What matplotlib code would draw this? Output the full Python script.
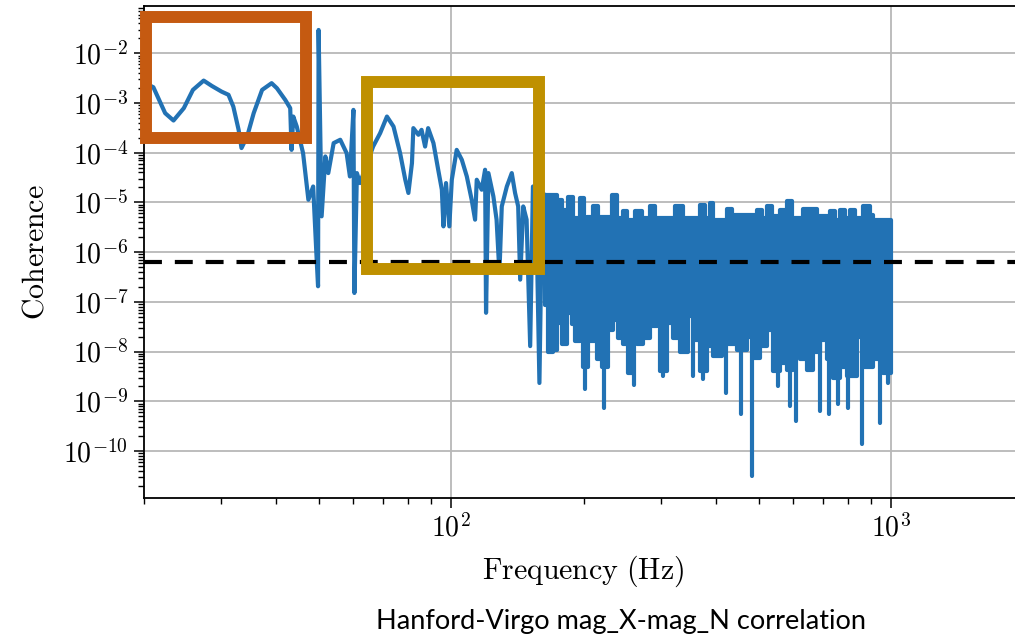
import numpy as np
import matplotlib
matplotlib.use("Agg")
import matplotlib.pyplot as plt
from matplotlib.patches import Rectangle
from matplotlib.ticker import LogLocator, FuncFormatter, NullFormatter

# ---------------- data ----------------
# structured low-frequency part of the coherence spectrum
lf_freq = [20.0, 21.06, 22.4, 23.4, 24.7, 25.9, 27.4, 28.6, 30.1, 31.2, 32.0, 32.9,
           33.4, 34.4, 35.6, 37.2, 39.1, 40.2, 42.0, 43.1, 43.4, 43.8, 44.6, 46.1,
           47.4, 48.6, 49.5, 49.86, 50.0, 50.8, 51.8, 52.6, 54.1, 56.0, 57.9, 58.9,
           60.0, 60.3, 61.1, 62.1, 66.5, 69.0, 71.5, 74.0, 76.6, 78.7, 80.0, 81.5,
           82.1, 84.3, 85.7, 87.3, 88.7, 91.2, 93.5, 95.3, 96.1, 97.4, 99.1, 100.4,
           103.0, 105.8, 108.6, 111.4, 113.4, 114.4, 117.4, 119.5, 120.1, 121.6,
           124.8, 126.9, 128.8, 130.4, 133.9, 137.4, 139.8, 142.1, 143.6, 145.9,
           148.5, 151.3, 153.5, 156.7, 158.8, 160.6, 163.6]
lf_coh = [2.6e-3, 2.07e-3, 6.24e-4, 4.44e-4, 7.87e-4, 1.83e-3, 2.82e-3, 2.2e-3,
          1.69e-3, 1.46e-3, 8.47e-4, 2.88e-4, 1.24e-4, 2.11e-4, 6.24e-4, 1.83e-3,
          2.5e-3, 1.98e-3, 1.15e-3, 7.87e-4, 1.14e-4, 5.33e-4, 3.36e-4, 9.8e-5,
          1.13e-5, 2.09e-5, 7.1e-7, 2.06e-7, 2.94e-2, 5.25e-6, 8.4e-5, 3.89e-5,
          1.56e-4, 1.82e-4, 9.8e-5, 3.33e-5, 7.26e-4, 1.51e-7, 3.89e-5, 2.45e-5,
          1.33e-4, 2.47e-4, 5.33e-4, 3.36e-4, 9.8e-5, 2.86e-5, 1.55e-5, 6.18e-5,
          3.12e-4, 2.29e-4, 2.88e-4, 1.33e-4, 3.12e-4, 1.56e-4, 4.54e-5, 1.8e-5,
          3.3e-6, 2.45e-5, 3.3e-6, 2.86e-5, 1.14e-4, 7.2e-5, 3.33e-5, 1.13e-5,
          4.5e-6, 2.86e-5, 1.8e-5, 4.54e-5, 6.03e-8, 3.89e-5, 1.32e-5, 4.5e-6,
          3.82e-7, 8.3e-6, 2.09e-5, 3.89e-5, 1.55e-5, 8.3e-6, 2.8e-7, 8.3e-6,
          4.5e-6, 1.29e-8, 2.09e-5, 1.31e-6, 2.34e-9, 1.78e-6, 1.43e-5]

# noise-dominated high-frequency part: top edge of the dense trace
# (band edges between consecutive frequencies, one level per band)
hf_up_edges = [163.6, 174.1, 178.8, 184.5, 189.4, 196.5, 200.6, 203.8, 210.2, 215.8,
               232.2, 238.4, 246.0, 251.2, 261.9, 271.7, 283.3, 290.8, 322.9, 336.7,
               368.1, 377.9, 387.9, 394.1, 424.0, 435.2, 496.1, 509.2, 522.7, 536.5,
               559.4, 580.2, 595.7, 631.0, 678.9, 726.6, 745.9, 765.7, 786.2, 806.8,
               828.2, 863.7, 896.0, 910.2, 1000.0]
hf_up_coh = [1.43e-5, 1.13e-5, 7.1e-6, 1.3e-5, 4.93e-6, 1.2e-5, 3.1e-6, 5.16e-6,
             8.6e-6, 5.16e-6, 1.43e-5, 4.93e-6, 6.6e-6, 4.5e-6, 6.6e-6, 4.93e-6,
             8.6e-6, 4.93e-6, 8.6e-6, 4.93e-6, 9.0e-6, 4.93e-6, 9.7e-6, 4.5e-6,
             7.4e-6, 5.66e-6, 6.9e-6, 4.93e-6, 8.3e-6, 5.3e-6, 6.9e-6, 1.05e-5,
             4.93e-6, 7.4e-6, 5.3e-6, 6.6e-6, 4.5e-6, 6.9e-6, 4.93e-6, 6.9e-6,
             4.93e-6, 8.3e-6, 5.66e-6, 4.5e-6]
# bottom edge of the dense trace
hf_lo_edges = [163.6, 166.4, 170.8, 173.9, 178.5, 183.2, 188.1, 191.3, 196.5, 199.9,
               205.1, 214.4, 220.1, 227.8, 233.8, 240.0, 246.4, 252.9, 259.6, 264.2,
               273.5, 283.3, 293.4, 298.5, 309.2, 320.0, 331.5, 346.2, 358.5, 368.1,
               381.2, 394.6, 412.4, 426.8, 446.0, 469.9, 486.4, 503.9, 521.9, 540.2,
               559.4, 579.4, 599.8, 621.0, 643.3, 665.9, 689.6, 714.3, 739.4, 765.7,
               793.1, 835.6, 865.0, 911.7, 960.5, 1000.0]
hf_lo_coh = [8.8e-8, 9.6e-9, 1.1e-8, 3.8e-8, 1.4e-8, 6.1e-8, 3.6e-8, 1.6e-8, 2.5e-8,
             5e-9, 1.6e-8, 7e-9, 5e-9, 2.7e-8, 4.4e-8, 1.9e-8, 1.4e-8, 3.8e-9, 3.8e-8,
             1.4e-8, 1.9e-8, 3.2e-8, 3.8e-8, 4e-9, 3.8e-8, 1.9e-8, 1.0e-8, 5.1e-8,
             1.75e-8, 4e-9, 1.3e-8, 8.2e-9, 4.4e-8, 1.4e-8, 1.1e-8, 2e-8, 7.5e-9,
             1.3e-8, 2.7e-8, 4e-9, 6e-9, 4.3e-9, 8.7e-9, 7e-9, 4.3e-9, 1.0e-8,
             1.75e-8, 7e-9, 3e-9, 5e-9, 3.3e-9, 2e-8, 5e-9, 7e-9, 3.8e-9]
# deep downward spikes below the dense trace
spike_freq = [180.0, 201.6, 216.2, 223.1, 255.2, 260.6, 303.8, 354.3, 373.3, 421.7,
              455.4, 482.5, 554.5, 589.4, 607.3, 689.6, 724.0, 759.0, 799.8, 860.8,
              944.1, 986.1]
spike_min = [1.39e-8, 1.73e-9, 8.1e-9, 7.43e-10, 3.75e-9, 2.18e-9, 3.21e-9, 3.21e-9,
             2.75e-9, 1.49e-9, 5.46e-10, 3.15e-11, 2.02e-9, 8.0e-10, 4.0e-10,
             6.35e-10, 5.46e-10, 8.67e-10, 7.43e-10, 1.36e-10, 3.72e-10, 2.36e-9]

threshold = 6.3e-7

# highlighted regions (frequency range, coherence range)
box_orange = (20.3, 46.8, 2.0e-4, 5.36e-2)
box_gold = (64.4, 158.5, 4.67e-7, 2.65e-3)

caption = "Hanford-Virgo mag_X-mag_N correlation"

# ---------------- style ----------------
plt.rcParams["mathtext.fontset"] = "cm"
plt.rcParams["font.family"] = ["DejaVu Serif"]

BLUE = "#2272b4"
W, H, DPI = 1015, 640, 100
fig = plt.figure(figsize=(W / DPI, H / DPI), dpi=DPI)
ax = fig.add_axes([143.5 / W, 141.7 / H, (1023.5 - 143.5) / W, (634.0 - 141.7) / H])
ax.set_xscale("log")
ax.set_yscale("log")


def step_outline(edges, levels):
    xs, ys = [], []
    for i, v in enumerate(levels):
        xs += [edges[i], edges[i + 1]]
        ys += [v, v]
    return xs, ys


lw = 3.0
ax.plot(lf_freq, lf_coh, color=BLUE, lw=lw, solid_joinstyle="round",
        solid_capstyle="round", zorder=3)
ux, uy = step_outline(hf_up_edges, hf_up_coh)
lx, ly = step_outline(hf_lo_edges, hf_lo_coh)
ax.fill(ux + lx[::-1], uy + ly[::-1], facecolor=BLUE, edgecolor=BLUE, lw=lw,
        joinstyle="round", zorder=3)
ax.vlines(spike_freq, spike_min, 1e-7, color=BLUE, lw=lw, capstyle="round", zorder=3)

ax.axhline(threshold, color="black", lw=3.0, ls=(0, (4.3, 3.1)), zorder=4)

for (f0, f1, c0, c1), col in [(box_orange, "#C55A11"), (box_gold, "#BF9000")]:
    r = Rectangle((f0, c0), f1 - f0, c1 - c0, fill=False, edgecolor=col,
                  lw=8.6, joinstyle="miter", clip_on=False, zorder=6)
    ax.add_patch(r)

ax.set_xlim(20, 2000)
ax.set_ylim(10 ** -10.95, 10 ** -1.05)

ax.grid(True, which="major", color="#b8b8b8", lw=1.3, zorder=0)
ax.set_axisbelow(True)

ax.yaxis.set_major_locator(LogLocator(base=10, numticks=20))
ax.yaxis.set_minor_locator(LogLocator(base=10, subs=np.arange(2, 10), numticks=20))
ax.yaxis.set_minor_formatter(NullFormatter())
ax.xaxis.set_minor_locator(LogLocator(base=10, subs=np.arange(2, 10), numticks=20))
ax.xaxis.set_minor_formatter(NullFormatter())
fmt = FuncFormatter(lambda v, p: r"$10^{%d}$" % int(round(np.log10(v))))
ax.xaxis.set_major_formatter(fmt)
ax.yaxis.set_major_formatter(fmt)

ax.tick_params(which="major", length=7, width=1.1, direction="out", labelsize=20, pad=4)
ax.tick_params(which="minor", length=4, width=1.0, direction="out")
for s in ax.spines.values():
    s.set_linewidth(1.3)

ax.set_xlabel(r"$\mathrm{Frequency\ (Hz)}$", fontsize=21.5, labelpad=8)
ax.set_ylabel(r"$\mathrm{Coherence}$", fontsize=21.5, labelpad=10)

fig.text(621 / W, 1 - 622 / H, caption, family=["Lato", "DejaVu Sans"], fontsize=19.5,
         ha="center", va="center")

fig.savefig("out.png", dpi=DPI)
